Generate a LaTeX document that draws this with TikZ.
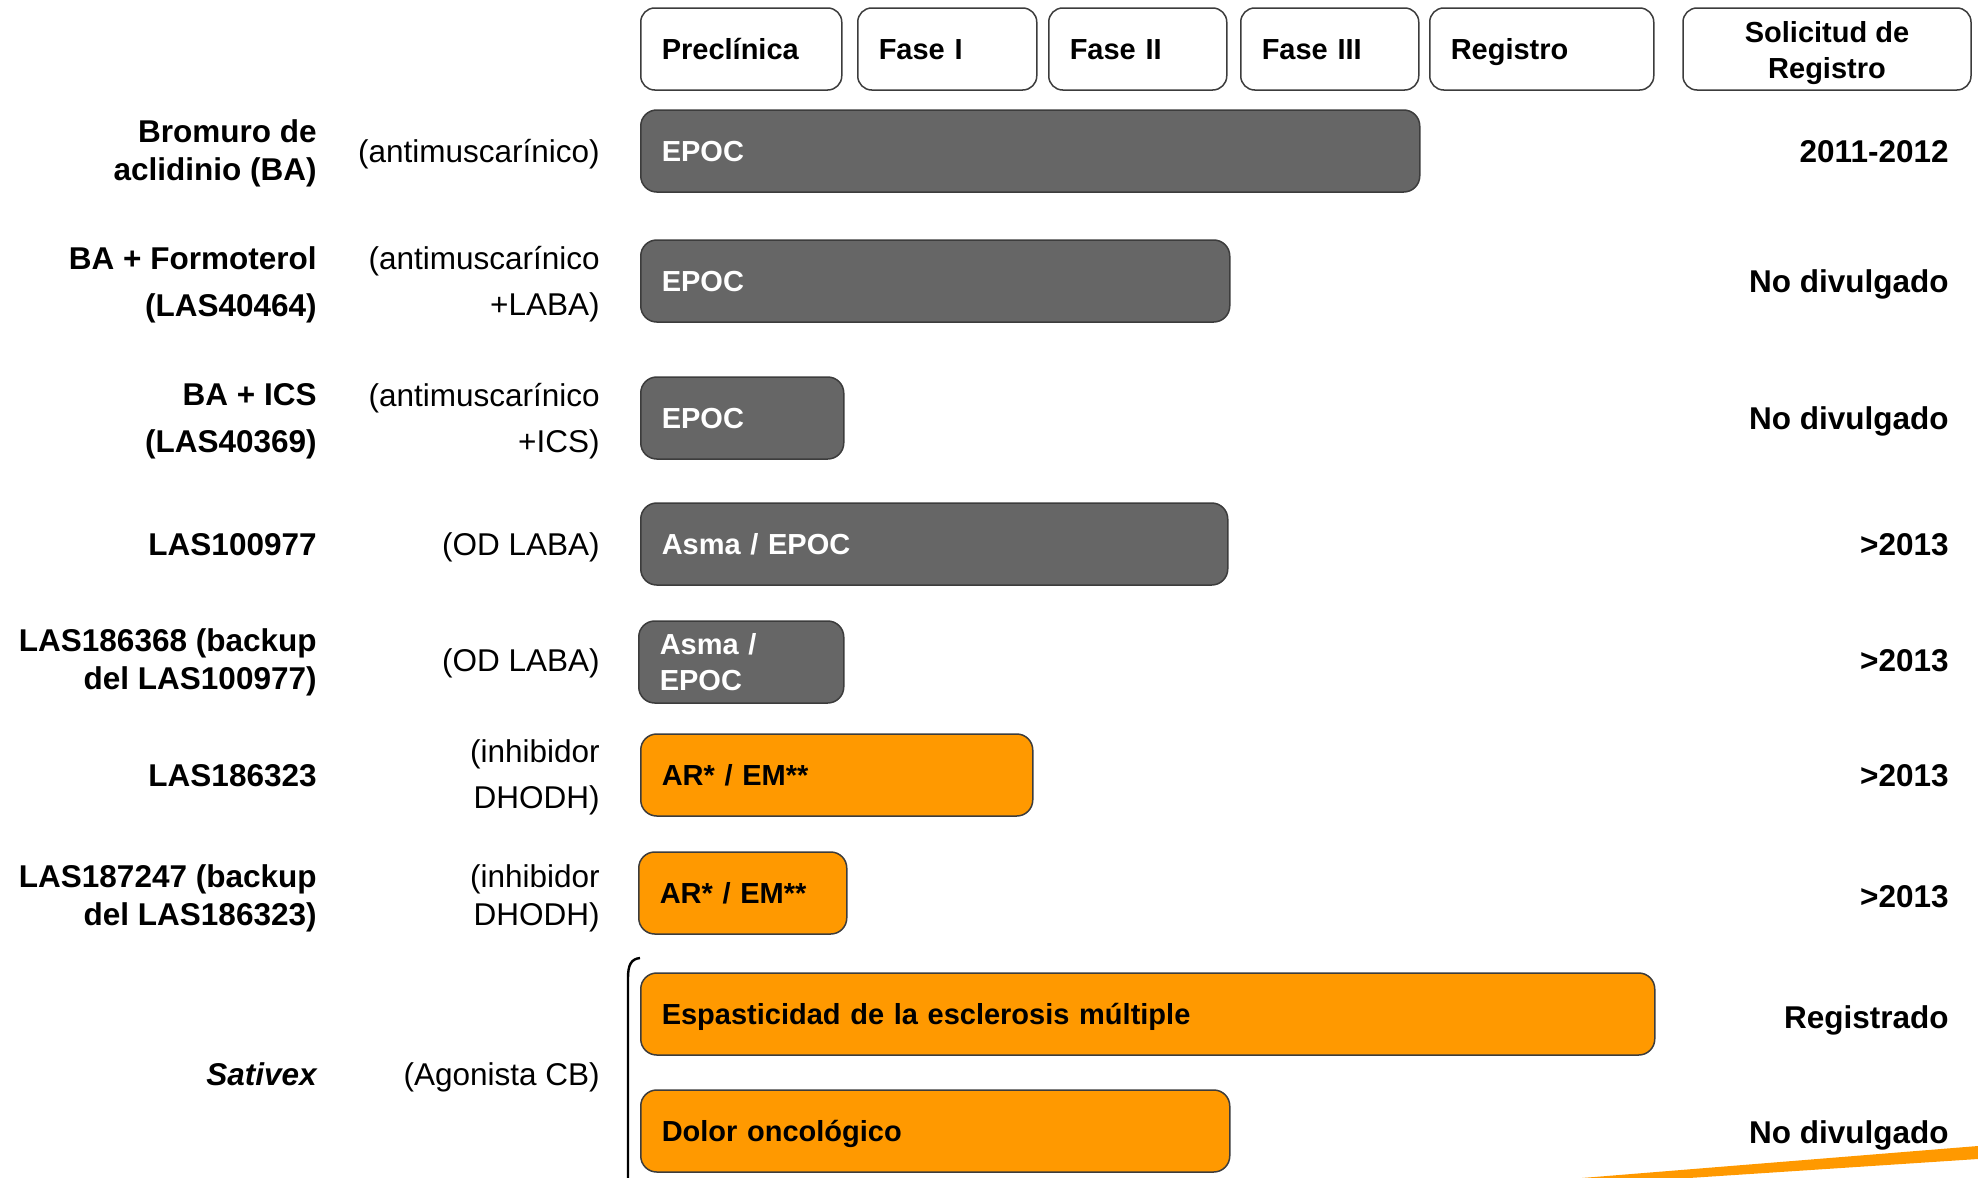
\documentclass[tikz,border=0pt]{standalone}
\usepackage{fontspec}
\setmainfont{Liberation Sans}
\usetikzlibrary{positioning}
\definecolor{barragris}{RGB}{102,102,102}
\definecolor{naranja}{RGB}{255,153,0}
\definecolor{borde}{RGB}{60,60,60}

\tikzset{
  fase/.style={rectangle,draw=borde,line width=0.75pt,rounded corners=7pt,fill=white,
    anchor=west,minimum height=41pt,inner xsep=10.5pt,align=left,
    font=\fontsize{14.5pt}{18pt}\selectfont\bfseries},
  gris/.style={rectangle,draw=borde,line width=0.75pt,rounded corners=8pt,fill=barragris,
    anchor=west,minimum height=41pt,inner xsep=10.5pt,align=left,text=white,
    font=\fontsize{14.5pt}{17.7pt}\selectfont\bfseries},
  naranjo/.style={gris,fill=naranja,text=black},
  unab/.style={text height=10.4pt,text depth=0pt},
  una/.style={text height=11.3pt,text depth=0pt},
  dos/.style={yshift=-1.25pt},
  farmaco/.style={anchor=east,align=right,inner sep=0pt,
    font=\fontsize{15.75pt}{19pt}\selectfont\bfseries},
  farmacoalto/.style={farmaco,font=\fontsize{15.75pt}{23.5pt}\selectfont\bfseries},
  mecanismo/.style={anchor=east,align=right,inner sep=0pt,
    font=\fontsize{15.75pt}{19pt}\selectfont},
  mecanismoalto/.style={mecanismo,font=\fontsize{15.75pt}{23pt}\selectfont},
  fecha/.style={una,anchor=east,inner sep=0pt,font=\fontsize{15.75pt}{19pt}\selectfont\bfseries}
}

\begin{document}
\begin{tikzpicture}[x=0.5pt,y=-0.5pt]
  \useasboundingbox (0,0) rectangle (1978,1178);

  % cabecera de fases
  \node[fase,unab,text width=79.5pt] (hpre) at (640,49) {Preclínica};
  \node[fase,unab,text width=68.5pt] (hf1) at (857,49) {Fase I};
  \node[fase,unab,text width=68pt] (hf2) at (1048,49) {Fase II};
  \node[fase,unab,text width=68pt] (hf3) at (1240,49) {Fase III};
  \node[fase,unab,text width=91pt] (hreg) at (1429,49) {Registro};
  \node[fase,anchor=center,align=center,minimum width=144pt] (hsol) at (1827,49) {};
  \node[font=\fontsize{14.5pt}{18pt}\selectfont\bfseries,align=center,yshift=-2pt] (tsol) at (hsol.center) {Solicitud de\\Registro};

  % barras
  \node[gris,unab,text width=368.5pt] (b1) at (640,151) {EPOC};
  \node[gris,unab,text width=273.5pt] (b2) at (640,281) {EPOC};
  \node[gris,unab,text width=80.5pt] (b3) at (640,418) {EPOC};
  \node[gris,unab,text width=272.5pt] (b4) at (640,544) {Asma / EPOC};
  \node[gris,text width=81.5pt] (b5) at (638,662) {Asma /\\EPOC};
  \node[naranjo,unab,text width=175pt] (b6) at (640,775) {AR* / EM**};
  \node[naranjo,unab,text width=83pt] (b7) at (638,893) {AR* / EM**};
  \node[naranjo,unab,text width=486pt] (b8) at (640,1014) {Espasticidad de la esclerosis múltiple};
  \node[naranjo,unab,text width=273.5pt] (b9) at (640,1131) {Dolor oncológico};

  % farmacos
  \node[farmaco,dos] (f1) at (317,151) {Bromuro de\\aclidinio (BA)};
  \node[farmacoalto,dos] (f2) at (317,282) {BA + Formoterol\\(LAS40464)};
  \node[farmacoalto,dos] (f3) at (317,419) {BA + ICS\\(LAS40369)};
  \node[farmaco,una] (f4) at (317,544) {LAS100977};
  \node[farmaco,dos] (f5) at (317,660) {LAS186368 (backup\\del LAS100977)};
  \node[farmaco,una] (f6) at (317,775) {LAS186323};
  \node[farmaco,dos] (f7) at (317,896) {LAS187247 (backup\\del LAS186323)};
  \node[farmaco,una,font=\fontsize{15.75pt}{19pt}\selectfont\bfseries\itshape] (f8) at (317,1074) {Sativex};

  % mecanismos
  \node[mecanismo,una] (m1) at (600,151) {(antimuscarínico)};
  \node[mecanismoalto,dos] (m2) at (600,282) {(antimuscarínico\\+LABA)};
  \node[mecanismoalto,dos] (m3) at (600,419) {(antimuscarínico\\+ICS)};
  \node[mecanismo,una] (m4) at (600,544) {(OD LABA)};
  \node[mecanismo,una] (m5) at (600,660) {(OD LABA)};
  \node[mecanismoalto,dos] (m6) at (600,775) {(inhibidor\\DHODH)};
  \node[mecanismo,dos] (m7) at (600,896) {(inhibidor\\DHODH)};
  \node[mecanismo,una] (m8) at (600,1074) {(Agonista CB)};

  % fechas de solicitud
  \node[fecha] (s1) at (1949,151) {2011-2012};
  \node[fecha] (s2) at (1949,281) {No divulgado};
  \node[fecha] (s3) at (1949,418) {No divulgado};
  \node[fecha] (s4) at (1949,544) {>2013};
  \node[fecha] (s5) at (1949,660) {>2013};
  \node[fecha] (s6) at (1949,775) {>2013};
  \node[fecha] (s7) at (1949,896) {>2013};
  \node[fecha] (s8) at (1949,1017) {Registrado};
  \node[fecha] (s9) at (1949,1132) {No divulgado};

  % llave de Sativex y franja
  \draw[line width=1.2pt] (640,958) .. controls (631,959) and (628,965) .. (628,978) -- (628,1190);
  \fill[naranja] (1582,1178) -- (1978,1146) -- (1978,1159) -- (1689,1178) -- cycle;
\end{tikzpicture}
\end{document}
